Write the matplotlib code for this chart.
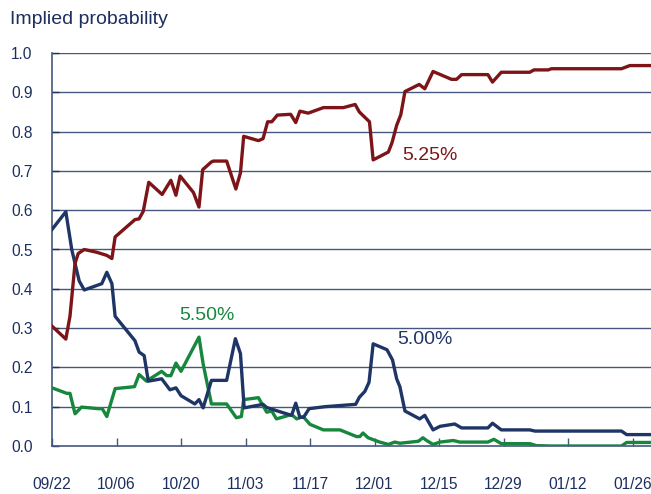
import matplotlib
matplotlib.use("Agg")
import matplotlib.pyplot as plt

plt.rcParams['font.family'] = ['Liberation Sans', 'DejaVu Sans']

# days after 09/22
tick_days = [0, 14, 28, 42, 56, 70, 84, 98, 112, 126]
tick_labels = ["09/22", "10/06", "10/20", "11/03", "11/17", "12/01", "12/15", "12/29", "01/12", "01/26"]

# 5.25%
red_d = [0, 3, 3.9, 5, 5.7, 7, 9.7, 11.9, 13, 13.7, 18, 18.9, 19.8, 21, 23.9, 25.8, 26.9, 27.8, 30.7, 31.9,
         32.7, 34.5, 35, 37.9, 39.9, 40.9, 41.6, 44.8, 45.8, 46.8, 47.7, 48.9, 51.8, 52.9, 53.8, 55.6,
         58.9, 63.2, 65.8, 66.7, 68.9, 69.7, 73, 73.8, 74.8, 75.7, 76.6, 79.7, 80.9, 82.7, 86.7, 87.8,
         88.9, 94.6, 95.6, 97.5, 103.7, 104.6, 107.7, 108.4, 123.6, 125.4, 130]
red_v = [0.305, 0.272, 0.33, 0.465, 0.49, 0.50, 0.493, 0.485, 0.477, 0.532, 0.576, 0.578, 0.597, 0.671, 0.64,
         0.676, 0.638, 0.687, 0.645, 0.608, 0.703, 0.722, 0.725, 0.725, 0.654, 0.695, 0.788, 0.777, 0.782,
         0.825, 0.825, 0.842, 0.844, 0.823, 0.852, 0.847, 0.861, 0.861, 0.869, 0.850, 0.825, 0.728, 0.748,
         0.772, 0.816, 0.843, 0.902, 0.92, 0.909, 0.953, 0.933, 0.933, 0.945, 0.945, 0.926, 0.951, 0.951,
         0.957, 0.957, 0.96, 0.96, 0.968, 0.968]

# 5.00%
blue_d = [0, 3, 4.3, 5.9, 7, 10.8, 11.9, 13, 13.7, 18, 18.9, 20, 20.9, 23.8, 25.6, 26.9, 28, 31, 31.9, 32.8,
          34.6, 37.9, 39.8, 40.9, 41.7, 45.8, 46.6, 48.7, 52, 52.9, 53.8, 54.6, 55.8, 59.2, 65.9, 66.7,
          67.9, 68.8, 69.7, 72.7, 73.9, 74.8, 75.5, 76.6, 79.8, 80.9, 82.7, 84.2, 87.4, 88.9, 94.6, 95.6,
          97.5, 103.7, 104.8, 123.6, 124.7, 130]
blue_v = [0.551, 0.596, 0.499, 0.42, 0.397, 0.413, 0.442, 0.413, 0.33, 0.268, 0.239, 0.23, 0.165, 0.171,
          0.143, 0.148, 0.128, 0.107, 0.118, 0.097, 0.167, 0.167, 0.273, 0.235, 0.097, 0.106, 0.098, 0.09,
          0.078, 0.109, 0.073, 0.073, 0.095, 0.1, 0.106, 0.124, 0.139, 0.162, 0.26, 0.245, 0.219, 0.171,
          0.151, 0.089, 0.069, 0.078, 0.041, 0.05, 0.056, 0.046, 0.046, 0.058, 0.041, 0.041, 0.038, 0.038,
          0.029, 0.029]

# 5.50%
green_d = [0, 3.2, 3.9, 5, 6.4, 10, 10.9, 11.9, 13.7, 17.9, 18.9, 20.5, 23.8, 24.9, 25.8, 26.9, 28, 31.9,
           32.8, 34.6, 37.9, 40, 41.1, 41.6, 44.8, 46.6, 47.7, 48.7, 52, 53.1, 54.5, 56, 58.9, 62.5, 66.1,
           66.8, 67.5, 68.6, 71.1, 73, 74.4, 75.5, 79.5, 80.5, 81.3, 82.7, 84.2, 87.1, 88.5, 94.6, 95.9,
           97.5, 103.7, 105.1, 108.4, 123.6, 124.7, 130]
green_v = [0.148, 0.134, 0.134, 0.082, 0.099, 0.095, 0.095, 0.075, 0.146, 0.151, 0.182, 0.165, 0.19, 0.179,
           0.179, 0.211, 0.19, 0.277, 0.209, 0.107, 0.107, 0.072, 0.075, 0.118, 0.123, 0.086, 0.089, 0.069,
           0.08, 0.069, 0.075, 0.055, 0.041, 0.041, 0.024, 0.024, 0.033, 0.021, 0.01, 0.004, 0.01, 0.007,
           0.012, 0.021, 0.014, 0.004, 0.01, 0.014, 0.01, 0.01, 0.017, 0.006, 0.006, 0.001, 0.0, 0.0, 0.009,
           0.009]

navy = "#1c2f5e"
red = "#7d1518"
blue = "#1f3566"
green = "#17873e"
gridc = "#45577f"

fig = plt.figure(figsize=(6.51, 4.94), dpi=100)
ax = fig.add_axes([52/651, 1 - 446/494, 1 - 52/651, (446 - 53)/494])

for yv in [0.1, 0.2, 0.3, 0.4, 0.5, 0.6, 0.7, 0.8, 0.9, 1.0]:
    ax.axhline(yv, color=gridc, lw=1.0, zorder=1)

ax.plot(green_d, green_v, color=green, lw=2.4, zorder=3, solid_joinstyle='round')
ax.plot(blue_d, blue_v, color=blue, lw=2.4, zorder=4, solid_joinstyle='round')
ax.plot(red_d, red_v, color=red, lw=2.4, zorder=5, solid_joinstyle='round')

ax.set_xlim(0, 130)
ax.set_ylim(0, 1.0)
ax.set_xticks(tick_days)
ax.set_xticklabels(tick_labels)
ax.set_yticks([i / 10 for i in range(11)])
ax.set_yticklabels(["%.1f" % (i / 10) for i in range(11)])
ax.tick_params(axis='x', direction='in', length=6, width=1, color=gridc, pad=22,
               labelsize=11.2, labelcolor=navy)
ax.tick_params(axis='y', direction='in', length=5, width=1, color=navy, pad=14,
               labelsize=11.2, labelcolor=navy)

for s in ['top', 'right']:
    ax.spines[s].set_visible(False)
ax.spines['left'].set_color(gridc)
ax.spines['left'].set_linewidth(1.2)
ax.spines['bottom'].set_color(gridc)
ax.spines['bottom'].set_linewidth(1.2)

ax.text(82, 0.74, "5.25%", color=red, fontsize=14, ha='center', va='center')
ax.text(33.6, 0.331, "5.50%", color=green, fontsize=14, ha='center', va='center')
ax.text(80.9, 0.27, "5.00%", color=blue, fontsize=14, ha='center', va='center')

fig.text(10/651, 1 - 20/494, "Implied probability", color=navy, fontsize=14, ha='left', va='center')

fig.savefig("out.png", dpi=100)
